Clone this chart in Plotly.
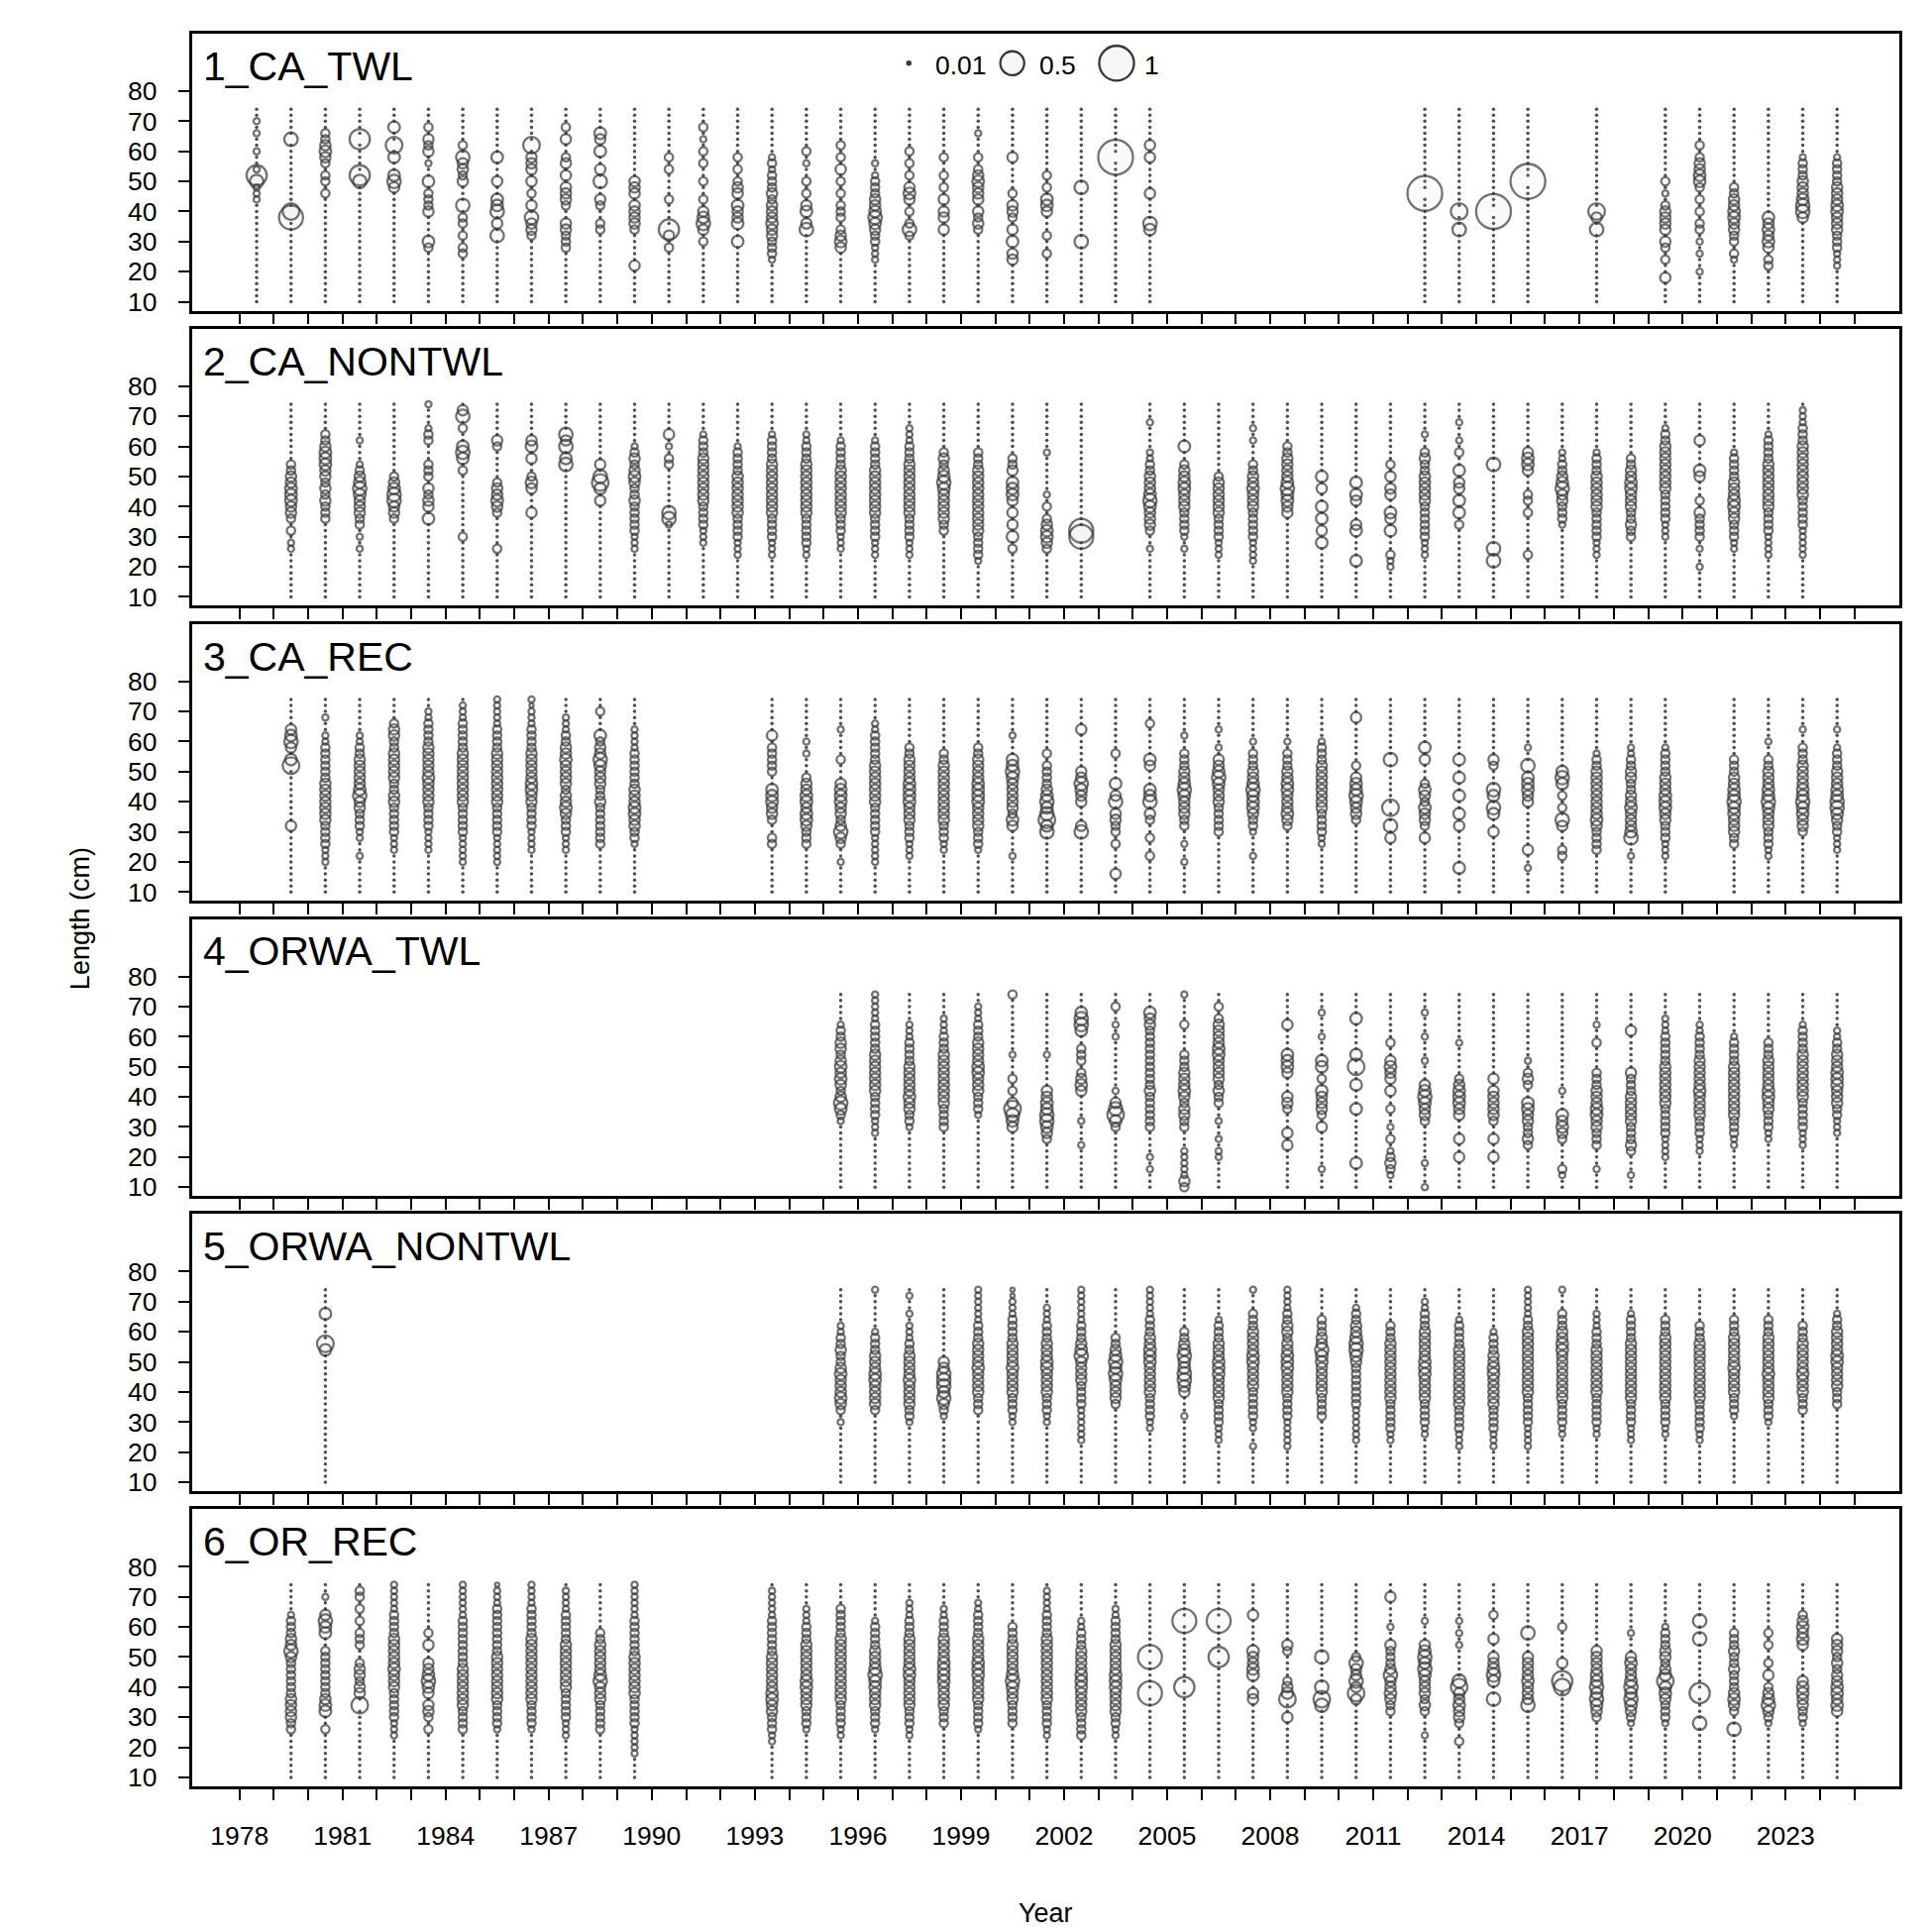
import plotly.graph_objects as go

FONT = "Liberation Sans, Arial, Helvetica, sans-serif"

# length bins (cm), listed top-down as the composition strings are written
LENGTHS_TOP_DOWN = [74, 72, 70, 68, 66, 64, 62, 60, 58, 56, 54, 52, 50, 48, 46, 44, 42,
                    40, 38, 36, 34, 32, 30, 28, 26, 24, 22, 20, 18, 16, 14, 12, 10]

# proportion coded by each character ('.' = zero, drawn as a small dot)
LEVEL_PROP = {'1': 0.015, '2': 0.03, '3': 0.052, '4': 0.082, '5': 0.115, '6': 0.14,
              '7': 0.18, '8': 0.26, '9': 0.37, 'A': 0.5, 'B': 0.72, 'C': 1.0}

FLEETS = ["1_CA_TWL", "2_CA_NONTWL", "3_CA_REC", "4_ORWA_TWL", "5_ORWA_NONTWL", "6_OR_REC"]

X_TICKS = list(range(1978, 2026))
X_LABEL_EVERY = 3
Y_TICKS = [10, 20, 30, 40, 50, 60, 70, 80]

# ---------------- 1_CA_TWL ----------------
CA_TWL_years = list(range(1978, 2005)) + [2012, 2013, 2014, 2015, 2017, 2019, 2020, 2021, 2022, 2023, 2024]
CA_TWL_comp = [
    "..3.3..3..397333",
    ".....7...........8A",
    "....445654.44.4",
    ".....9.....97",
    "...6..8.6..675",
    "...4.545.3..6.4445....64",
    "......4.75545...7.44.4.44",
    "........6...5..667.5.7",
    "......8.555.5.4.5.7554",
    "...4.5..45.5.5554..55444",
    "....65.6..5.7..54..44",
    "............555.55554.....5",
    "........4.4....4....95.4",
    "...4.3.4.4..4..4.5675.4",
    "........4.4.455.6556..6",
    "........343444545556554443",
    ".......4.3..4.4.56.57",
    "......4.4.5.4.4.444.4565",
    ".........3.344455676544333",
    ".......4.4.4.565.4.474",
    "........4..4.4.5.55.5",
    "....3...4.456555.5454",
    "........5.....4.554.5.6.55",
    "...........4.4.665...4..4",
    ".............7........7",
    "........C",
    "......5.5.....5....76",
    "..............C",
    ".................8..7",
    ".................C",
    "............C",
    ".................85.7",
    "............4.3.45555.54.4..5",
    "......4.455664.4.4.44.3.3..3",
    ".............4455665544.43",
    "..................656565.44",
    "........34445556775",
    "........3444455566555444333",
]

# ---------------- 2_CA_NONTWL ----------------
CA_NONTWL_years = list(range(1979, 2003)) + list(range(2004, 2024))
CA_NONTWL_comp = [
    "..........4455666554.4.33",
    ".....445666554545444",
    "......3...34567655544.3.3",
    "............45677554",
    "3...344...444.5455.6",
    ".57.4..676.4..........4",
    "......54.....455654.....4",
    "......56.5..465...5",
    ".....757.67",
    "..........5.786.5",
    ".......345456544544444333",
    ".....5.3.44.......773",
    ".....3444555555554444333",
    ".......3444455555554444333",
    ".....344445555555554444333",
    ".....334445555555554444433",
    "......3444455555555444333",
    "......34444555555554444333",
    "....3334445555555554444333",
    "........45456765555544",
    "........4445555555555544443",
    ".........445.6665.5.5.6.4",
    "........3......3.4.456654",
    ".....................AA",
    "...3....33445556765554..3",
    ".......6..4556655544443.3",
    "............45555554444333",
    "....3.3...44556555444443333",
    ".......445555676655",
    "............6.5..6.6.5.6",
    ".............6.65...56....6",
    "..........4.5.55..65.6...433",
    ".....3..454455555444444333",
    "...3..3.4..6.55.6.6.4",
    "..........7.............7.7",
    "........5665...44.4......4",
    "........3344567554443",
    "........344455555544444333",
    ".........44556655544544",
    "....3445555555544444333",
    "......5....65...4.54444.3..3",
    "........34444555665544433",
    ".....344445555555544443333",
    ".3334445555555554444433333",
]

# ---------------- 3_CA_REC ----------------
CA_REC_years = list(range(1979, 1990)) + list(range(1993, 2020)) + list(range(2021, 2025))
CA_REC_comp = [
    ".....5675.68.........5",
    "...3..33444444555555544443" + "33",
    "......334455555675544433..3",
    "....4554455555445544444333",
    "..334444555556555544443333",
    ".333444445555555554444433333",
    "3333344445555555554444433333",
    "32333444455555665544443333",
    "...33344556555545565444333",
    "..4...6455765554454444444",
    ".....33334444445556655443",
    "......5.44444..666554..44",
    ".......3.3...455665665444",
    ".....3....4...56665545754..3",
    "....334444455555554444433333",
    "........4455556666555444333",
    ".........44555555555544433",
    "........445555666655554443",
    "......3...667655555465....3",
    ".........4.444456767867",
    ".....5......557655...57",
    ".........4....6.57.5544.4....5",
    "....4.....65...667.54..4..4",
    "......3..4445567655544..3..3",
    ".....3..3.5567655544444",
    ".......3.44455676665443...3",
    ".......3.4445566555654",
    ".......344455555555444433",
    "...5.......4.56676554",
    "..........7.......8..7.5",
    "........6.5...46546554.5",
    "..........6..6..6..6.5......6",
    "..........54...76.76..5",
    "........3..7.66655.......5..3",
    "............676.4.4.75...44",
    ".........34455555555654444",
    "........3344554455655567..3",
    "........3444455566655444333",
    "..........444556676655544",
    ".......3..44555667655544433",
    ".....3..444555566766554",
    ".....3..344455566776544333",
]

# ---------------- 4_ORWA_TWL ----------------
ORWA_TWL_years = list(range(1995, 2007)) + list(range(2008, 2025))
ORWA_TWL_comp = [
    ".....34455456565457643",
    "333334444455555554444333",
    ".....333444455555655443",
    "....3334445555555554444",
    "..3334445555665554443",
    "4.........3...4.4.58765",
    "..........3.....556677654",
    "...6776..444.4565....3...3",
    "..4..3.3........3.57864",
    "...65544444444445444444....3.3",
    "3....4....4445556545544...3333354",
    "..4.455556655554544..3..3.33",
    ".....5....6665...554...5.5",
    "...3...3...66.4.65554.5......3",
    "....6.....6.8..6...6........6",
    "........4..5655.5..4..3.4.34543",
    "...3...3...3...5676554......3...3",
    "........3.....4566655...5..5",
    "..............5.555554..5..5",
    "...........3.454..66554454",
    "................3...65654....43",
    ".....3..4....4445556655444...3",
    "......5......54445555544454...3",
    "....333444445555555444443333",
    ".....3344445555565555444333",
    ".......3444455555555544433",
    "........44455555665544433",
    ".....344445555555544444333",
    "......334455566655544333",
]

# ---------------- 5_ORWA_NONTWL ----------------
ORWA_NONTWL_years = [1980] + list(range(1995, 2025))
ORWA_NONTWL_comp = [
    "....6....86",
    "......334454456555654.3",
    "3......34445556655554",
    ".3..3.33344555565555443",
    "............5577767543",
    "333333444555565555444",
    "22333444455556555544433",
    "...33344455566555544433",
    "33333344456755554444333333",
    "........445676765554",
    "333334445566655555444433",
    ".......44567667765...3",
    ".....344455566655554444333",
    "3...44455556655554444433..3",
    "333344554556665555444433333",
    ".....44455766555554444",
    "...34455677654444444333333",
    "......44455555555554444433",
    "..33444555556665555444433",
    ".....3444455555555554444333",
    ".......34445566555554444333",
    "333334455555555555444443333",
    "3...444556655555555444433",
    "....333444555555554444433",
    "....3444455555555554444333",
    ".....44455555555555444433",
    "......44455555555554444433",
    ".....44455555655554443",
    ".....444555555655554443",
    "......444555556555444",
    "....3445555665555444",
]

# ---------------- 6_OR_REC ----------------
OR_REC_years = list(range(1979, 1990)) + list(range(1993, 2025))
OR_REC_comp = [
    ".....34445575444444555544",
    "..3..5766..44444444566..4",
    ".44.4.4.444..455455.8",
    "33333444455555655544444333",
    "........4.5..556765.554.4",
    "3333334444444455555554444",
    "2333444444445555555544443",
    "3333444445555555555544443",
    ".3333444445555555544444333",
    "........44555556755544444",
    "33333344444455555554444433333",
    ".33333444444555555665544433",
    "....333444555555665554443",
    "....4444455555555555444433",
    "......3444455567665554443",
    "...33344455555665555544433",
    "....33444555566665555444",
    "...3344445555666555544443",
    ".......44455555676554444",
    ".3333444455555555555444433",
    "......33444555566655554444",
    "....3344445555566655554433",
    "............A.....A",
    "......A..........9",
    "......A.....9",
    ".....5.....65566..55",
    "..........54....4568..5",
    "............7....7.87",
    "............47557585",
    "..5....3..544457556544",
    "......3...567676555454...3",
    "......3.3.3.....78556554..4",
    ".....4...5..55676..7",
    "........7...555565557",
    ".......4.....5..98",
    "...........555566767654",
    "........3...565567676543",
    ".......34445545686654443",
    "......7..7........9....7",
    "........44454454445654..7",
    "........4.4..4.5.4567543",
    ".....456565.....56655443",
    ".........5554545566565",
]

PANELS = [
    (FLEETS[0], CA_TWL_years, CA_TWL_comp),
    (FLEETS[1], CA_NONTWL_years, CA_NONTWL_comp),
    (FLEETS[2], CA_REC_years, CA_REC_comp),
    (FLEETS[3], ORWA_TWL_years, ORWA_TWL_comp),
    (FLEETS[4], ORWA_NONTWL_years, ORWA_NONTWL_comp),
    (FLEETS[5], OR_REC_years, OR_REC_comp),
]

# ---------------- geometry / style ----------------
W = 1950
H = 1950
PX_LEFT, PX_RIGHT = 193.5, 1917.0
PANEL_TOP0 = 34.0
PANEL_STEP = 298.8
PANEL_H = 280.5
X_RANGE = [1976.61, 2026.31]
Y_RANGE = [7.05, 99.1]
X_SHIFT = 0.5
R_FULL = 18.7          # outer radius (px) of a bubble with proportion 1
LINE_W = 2.3
LINE_COL = "rgb(55,55,55)"
FILL_COL = "rgba(200,200,200,0.12)"
DOT_COL = "rgb(80,80,80)"
AX_FONT = 26.5


def bubble_diam(p):
    return max(2 * R_FULL * p ** 0.5 - LINE_W, 0.8)


fig = go.Figure()
annotations = []
shapes = []
xdom = [PX_LEFT / W, PX_RIGHT / W]

for i, (name, yrs, comps) in enumerate(PANELS):
    assert len(yrs) == len(comps), name
    suf = "" if i == 0 else str(i + 1)
    dx, dy, bx, by, bs = [], [], [], [], []
    for yr, s in zip(yrs, comps):
        s = s.ljust(33, ".")[:33]
        for L, ch in zip(LENGTHS_TOP_DOWN, s):
            if ch == ".":
                dx.append(yr + X_SHIFT)
                dy.append(L)
            else:
                bx.append(yr + X_SHIFT)
                by.append(L)
                bs.append(LEVEL_PROP[ch])
    order = sorted(range(len(bs)), key=lambda j: -bs[j])
    bx = [bx[j] for j in order]
    by = [by[j] for j in order]
    bs = [bs[j] for j in order]

    fig.add_trace(go.Scatter(x=dx, y=dy, mode="markers", xaxis="x" + suf, yaxis="y" + suf,
                             marker=dict(size=3.5, color=DOT_COL, line=dict(width=0)),
                             hoverinfo="skip", showlegend=False))
    fig.add_trace(go.Scatter(x=bx, y=by, mode="markers", xaxis="x" + suf, yaxis="y" + suf,
                             marker=dict(size=[bubble_diam(p) for p in bs], color=FILL_COL,
                                         line=dict(width=LINE_W, color=LINE_COL)),
                             hoverinfo="skip", showlegend=False))

    top = PANEL_TOP0 + i * PANEL_STEP
    bot = top + PANEL_H
    ydom = [1 - bot / H, 1 - top / H]
    last = (i == len(PANELS) - 1)
    fig.layout["xaxis" + suf] = dict(
        domain=xdom, range=X_RANGE, anchor="y" + suf,
        tickmode="array", tickvals=X_TICKS,
        ticktext=[str(t) if (t - X_TICKS[0]) % X_LABEL_EVERY == 0 else "" for t in X_TICKS],
        showticklabels=last, ticks="outside", ticklen=11, tickwidth=2, tickcolor="black",
        showline=True, mirror=True, linecolor="black", linewidth=2.5,
        showgrid=False, zeroline=False,
        tickfont=dict(family=FONT, size=AX_FONT, color="black"),
        ticklabelstandoff=14,
    )
    fig.layout["yaxis" + suf] = dict(
        domain=ydom, range=Y_RANGE, anchor="x" + suf,
        tickmode="array", tickvals=Y_TICKS, ticktext=[str(t) for t in Y_TICKS],
        ticks="outside", ticklen=11, tickwidth=2, tickcolor="black",
        showline=True, mirror=True, linecolor="black", linewidth=2.5,
        showgrid=False, zeroline=False,
        tickfont=dict(family=FONT, size=AX_FONT, color="black"),
        ticklabelstandoff=16,
    )
    annotations.append(dict(text=name, xref="paper", yref="paper",
                            x=203 / W, y=1 - (top + 33) / H, xanchor="left", yanchor="middle",
                            showarrow=False, font=dict(family=FONT, size=41, color="black")))

# bubble-size key in first panel
KEY_PROPS = [0.01, 0.5, 1]
KEY_LABELS = ["0.01", "0.5", "1"]
KEY_CX = [917.3, 1021.7, 1127.0]
KEY_TX = [941.7, 1046.7, 1153.3]
KEY_CY = 64.0
for p, lab, cx, tx in zip(KEY_PROPS, KEY_LABELS, KEY_CX, KEY_TX):
    r = max(R_FULL * p ** 0.5 - LINE_W / 2, 1.6)
    shapes.append(dict(type="circle", xref="paper", yref="paper",
                       xsizemode="pixel", ysizemode="pixel",
                       xanchor=cx / W, yanchor=1 - KEY_CY / H,
                       x0=-r, x1=r, y0=-r, y1=r,
                       line=dict(width=LINE_W, color=LINE_COL),
                       fillcolor="rgba(247,247,247,1)" if p > 0.05 else DOT_COL))
    annotations.append(dict(text=lab, xref="paper", yref="paper", x=tx / W, y=1 - 65.8 / H,
                            xanchor="left", yanchor="middle", showarrow=False,
                            font=dict(family=FONT, size=AX_FONT, color="black")))

annotations.append(dict(text="Length (cm)", xref="paper", yref="paper", x=81 / W, y=1 - 930 / H,
                        xanchor="center", yanchor="middle", textangle=-90, showarrow=False,
                        font=dict(family=FONT, size=27, color="black")))
annotations.append(dict(text="Year", xref="paper", yref="paper", x=(PX_LEFT + PX_RIGHT) / 2 / W,
                        y=1 - 1937 / H, xanchor="center", yanchor="middle", showarrow=False,
                        font=dict(family=FONT, size=27, color="black")))

fig.update_layout(width=W, height=H, margin=dict(l=0, r=0, t=0, b=0),
                  paper_bgcolor="white", plot_bgcolor="white", showlegend=False,
                  annotations=annotations, shapes=shapes,
                  font=dict(family=FONT, color="black"))

fig.write_html("out.html")
